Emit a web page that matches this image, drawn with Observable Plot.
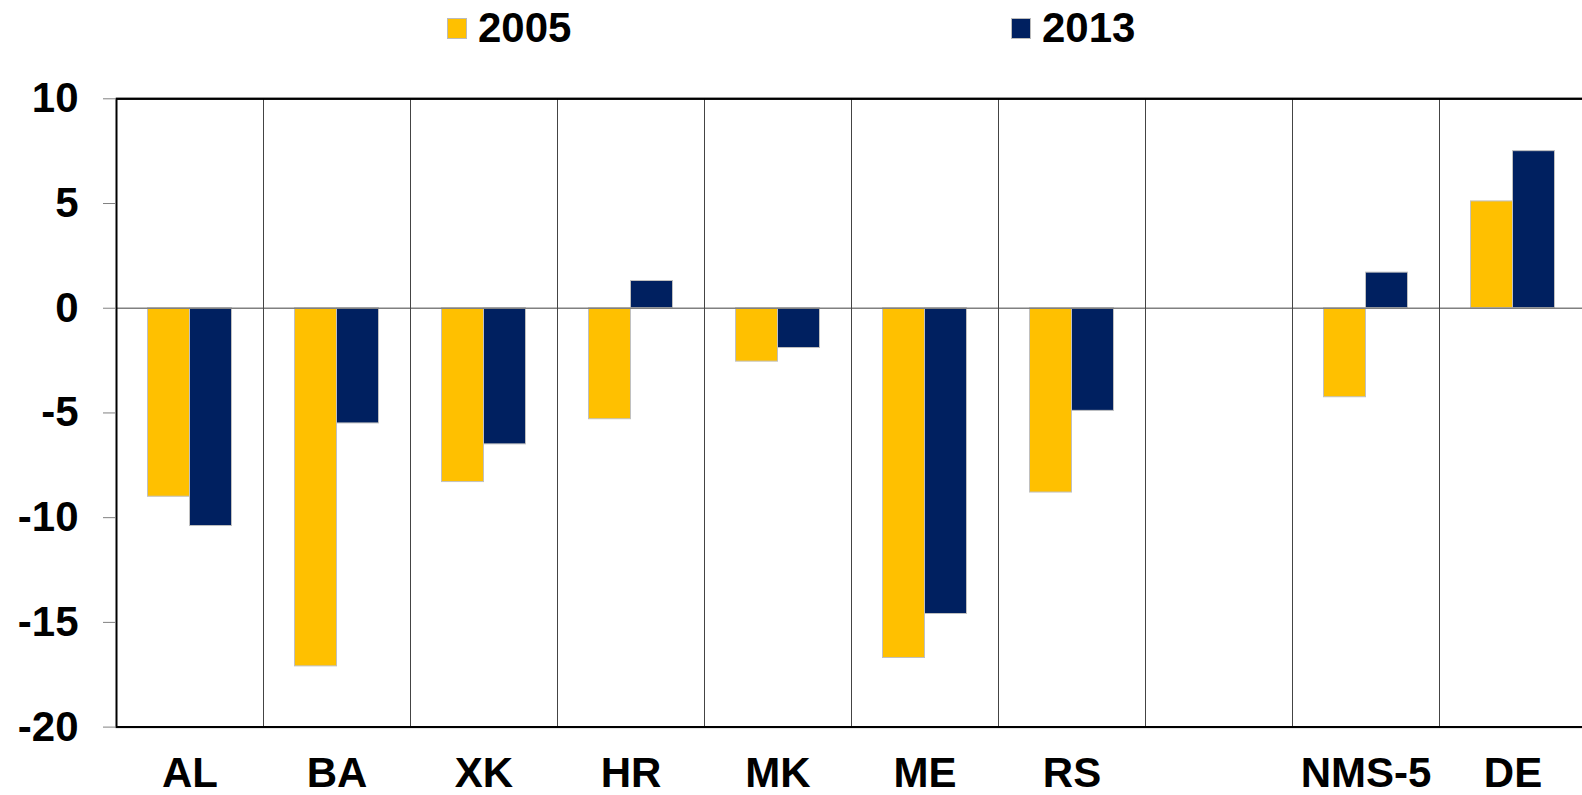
<!DOCTYPE html>
<html>
<head>
<meta charset="utf-8">
<script src="https://cdn.jsdelivr.net/npm/d3@7"></script>
<script src="https://cdn.jsdelivr.net/npm/@observablehq/plot@0.6"></script>
<style>
  html, body { margin: 0; padding: 0; background: #fff; overflow: hidden; }
  body { font-family: "Liberation Sans", Arial, sans-serif; }
  #legend { position: relative; height: 60px; width: 1582px; }
  #legend .sw { position: absolute; top: 18px; width: 20px; height: 21px; box-sizing: border-box; border: 1px solid #bbb; }
  #legend .lab { position: absolute; top: 7px; font-size: 42px; line-height: 42px; font-weight: bold; color: #000; }
</style>
</head>
<body>
<div id="legend"></div>
<div id="chart"></div>
<script>
// ---- data ----
const countries = ["AL", "BA", "XK", "HR", "MK", "ME", "RS", "", "NMS-5", "DE"];
const years = ["2005", "2013"];
const values2005 = [-9.0, -17.1, -8.3, -5.3, -2.55, -16.7, -8.8, null, -4.25, 5.1];
const values2013 = [-10.4, -5.5, -6.5, 1.3, -1.9, -14.6, -4.9, null, 1.7, 7.5];
const yTicks = [10, 5, 0, -5, -10, -15, -20];
const colors = ["#FFC000", "#002060"];

// every category gets rows (the empty slot keeps null values so its facet is kept)
const data = [];
countries.forEach((c, i) => {
  data.push({country: c, year: years[0], value: values2005[i]});
  data.push({country: c, year: years[1], value: values2013[i]});
});

// ---- legend ----
const legend = document.getElementById("legend");
const legendPos = [[447, 478], [1011, 1042]];
years.forEach((y, i) => {
  const sw = document.createElement("div");
  sw.className = "sw";
  sw.style.left = legendPos[i][0] + "px";
  sw.style.background = colors[i];
  legend.appendChild(sw);
  const t = document.createElement("div");
  t.className = "lab";
  t.style.left = legendPos[i][1] + "px";
  t.textContent = y;
  legend.appendChild(t);
});

// ---- chart ----
const chart = Plot.plot({
  width: 1582,
  height: 735,
  marginTop: 38.3,
  marginBottom: 68.4,
  marginLeft: 112.5,
  marginRight: -7,
  style: {fontFamily: "Liberation Sans, Arial, sans-serif", background: "white", overflow: "hidden"},
  fx: {domain: countries, padding: 0, label: null},
  x: {domain: years, paddingInner: 0, paddingOuter: 0.737, axis: null},
  y: {domain: [-20, 10]},
  color: {domain: years, range: colors},
  marks: [
    Plot.barY(data, {fx: "country", x: "year", y: "value", fill: "year", stroke: "#c0c0c0", strokeWidth: 1}),
    Plot.ruleY([0], {stroke: "#808080", strokeWidth: 1.5}),
    Plot.frame({anchor: "left", stroke: "#444", strokeWidth: 1}),
    Plot.ruleY([10, -20], {stroke: "#000", strokeWidth: 2}),
    Plot.frame({facet: "super", stroke: "#000", strokeWidth: 2}),
    Plot.axisY({
      ticks: yTicks, tickFormat: d => String(d), tickSize: 13, tickPadding: 25,
      stroke: "#808080", fill: "#000", fontSize: 42, fontWeight: "bold", label: null
    }),
    Plot.axisFx({
      anchor: "bottom", tickSize: 0, tickPadding: 30, fontSize: 42, fontWeight: "bold", label: null, fill: "#000"
    })
  ]
});
document.getElementById("chart").appendChild(chart);
</script>
</body>
</html>
